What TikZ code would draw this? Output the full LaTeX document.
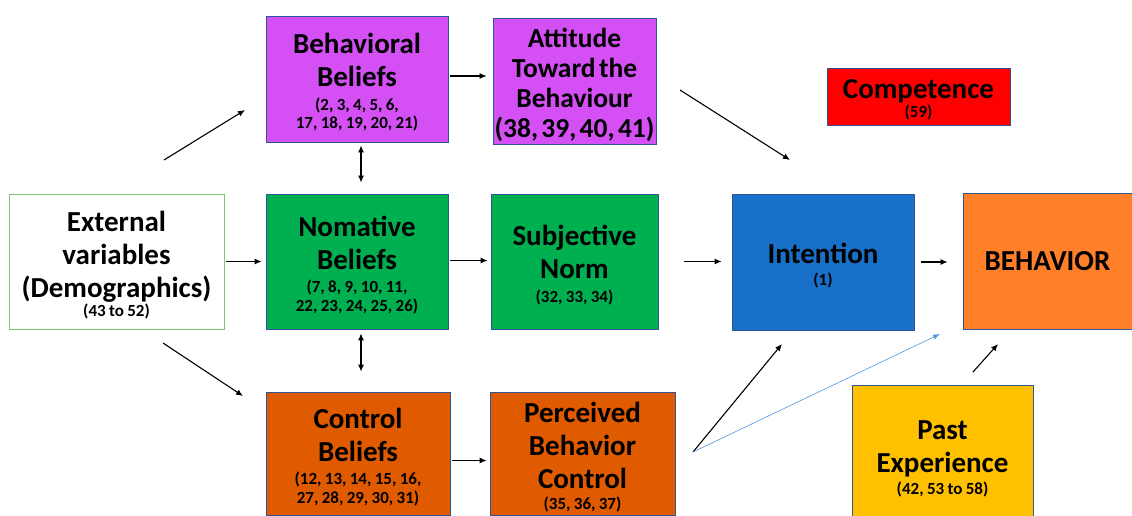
\documentclass[tikz,border=0pt]{standalone}
\usepackage{fontspec}
\setmainfont{Carlito}
\usetikzlibrary{arrows.meta}

\definecolor{boxline}{RGB}{47,85,151}
\definecolor{extline}{RGB}{120,200,110}
\definecolor{beliefviolet}{RGB}{212,80,245}
\definecolor{normgreen}{RGB}{0,176,80}
\definecolor{intblue}{RGB}{24,112,200}
\definecolor{behorange}{RGB}{255,128,40}
\definecolor{ctrlorange}{RGB}{224,90,0}
\definecolor{pastyellow}{RGB}{255,192,0}
\definecolor{thinblue}{RGB}{80,150,225}

\newcommand{\headfont}{\fontsize{29}{33}\selectfont}
\newcommand{\numfont}{\fontsize{17}{18.5}\selectfont}

\tikzset{
  box/.style={draw=boxline, line width=0.8pt, inner sep=0pt, align=center, font=\bfseries,
    execute at end node={\vspace*{-7pt}}},
  arr/.style={-{Latex[length=7pt,width=6pt]}, line width=1.1pt},
  dblarr/.style={{Latex[length=7pt,width=6pt]}-{Latex[length=7pt,width=6pt]}, line width=1.1pt}
}

\begin{document}
\begin{tikzpicture}[x=1pt,y=-1pt]
\useasboundingbox (0,0) rectangle (1132,516);

% Boxes
\node[box, fill=white, draw=extline, text width=215pt, minimum height=135pt] (ext) at (116.5,261.5)
  {{\headfont External\\variables\\(Demographics)\par}{\numfont\vspace{1pt}(43 to 52)\par}};

\node[box, fill=beliefviolet, text width=182pt, minimum height=126pt] (bb) at (357,79)
  {{\headfont Behavioral\\Beliefs\par}{\numfont\vspace{5pt}(2, 3, 4, 5, 6,\\17, 18, 19, 20, 21)\par}};
\node[box, fill=beliefviolet, text width=163pt, minimum height=126pt] (att) at (574.5,81)
  {{\fontsize{27.5}{30}\selectfont Attitude\\Toward the\\Behaviour\\(38, 39, 40, 41)\par}};

\node[box, fill=normgreen, text width=182pt, minimum height=135pt] (nb) at (357,261.5)
  {{\headfont Nomative\\Beliefs\par}{\numfont\vspace{5pt}(7, 8, 9, 10, 11,\\22, 23, 24, 25, 26)\par}};
\node[box, fill=normgreen, text width=167pt, minimum height=135pt] (sn) at (574.5,261.5)
  {{\headfont Subjective\\Norm\par}{\numfont\vspace{5pt}(32, 33, 34)\par}};

\node[box, fill=ctrlorange, text width=184pt, minimum height=123pt] (cb) at (358,453.5)
  {{\headfont Control\\Beliefs\par}{\numfont\vspace{5pt}(12, 13, 14, 15, 16,\\27, 28, 29, 30, 31)\par}};
\node[box, fill=ctrlorange, text width=185pt, minimum height=123pt] (pbc) at (582.5,453.5)
  {{\headfont Perceived\\Behavior\\Control\par}{\numfont\vspace{3pt}(35, 36, 37)\par}};

\node[box, fill=intblue, text width=182pt, minimum height=136pt] (int) at (823,262)
  {{\headfont Intention\par}{\numfont\vspace{3pt}(1)\par}};
\node[box, fill=behorange, text width=177pt, minimum height=136pt] (beh) at (1051.5,261)
  {{\headfont\hspace*{-8pt}BEHAVIOR\par}};
\node[box, fill=red, text width=183pt, minimum height=57pt] (comp) at (918.5,96.5)
  {{\headfont Competence\par}{\numfont\vspace{1pt}(59)\par}};
\node[box, fill=pastyellow, text width=181pt, minimum height=141pt] (pe) at (942.5,455.5)
  {{\headfont Past\\Experience\par}{\numfont\vspace{4pt}(42, 53 to 58)\par}};

% Free arrow ends
\coordinate (ext-up) at (164,160);
\coordinate (bb-in) at (245,110);
\coordinate (ext-down) at (163,343);
\coordinate (cb-in) at (243,396);
\coordinate (att-out) at (680,90);
\coordinate (int-top) at (790,160);
\coordinate (pbc-out) at (693,452);
\coordinate (int-bot) at (782,344);
\coordinate (beh-bot) at (940,334);
\coordinate (pe-out) at (973,372);
\coordinate (beh-in) at (998,344);

% Arrows
\draw[arr] (ext-up) -- (bb-in);
\draw[arr] (ext-down) -- (cb-in);
\draw[arr, shorten <=2pt, shorten >=4pt] (ext.east) -- (nb.west);
\draw[arr, shorten <=2pt, shorten >=6pt] ([yshift=3pt]bb.east) -- ([yshift=3pt]bb.east -| att.west);
\draw[dblarr, shorten <=3pt, shorten >=11pt] ([xshift=4pt]bb.south) -- ([xshift=4pt]bb.south |- nb.north);
\draw[dblarr, shorten <=4pt, shorten >=20pt] ([xshift=4pt]nb.south) -- ([xshift=4pt]nb.south |- cb.north);
\draw[arr, shorten <=2pt, shorten >=3pt] ([yshift=1pt]nb.east) -- ([yshift=1pt]sn.west);
\draw[arr, shorten <=26pt, shorten >=10pt] (sn.east) -- (sn.east -| int.west);
\draw[arr] (att-out) -- (int-top);
\draw[arr, shorten <=7pt, shorten >=15pt] (int.east) -- (int.east -| beh.west);
\draw[arr, shorten <=2pt, shorten >=3pt] ([yshift=-7pt]cb.east) -- ([yshift=-7pt]cb.east -| pbc.west);
\draw[arr] (pbc-out) -- (int-bot);
\draw[-{Latex[length=7pt,width=5pt]}, thinblue, line width=0.6pt] (pbc-out) -- (beh-bot);
\draw[arr] (pe-out) -- (beh-in);

\end{tikzpicture}
\end{document}
